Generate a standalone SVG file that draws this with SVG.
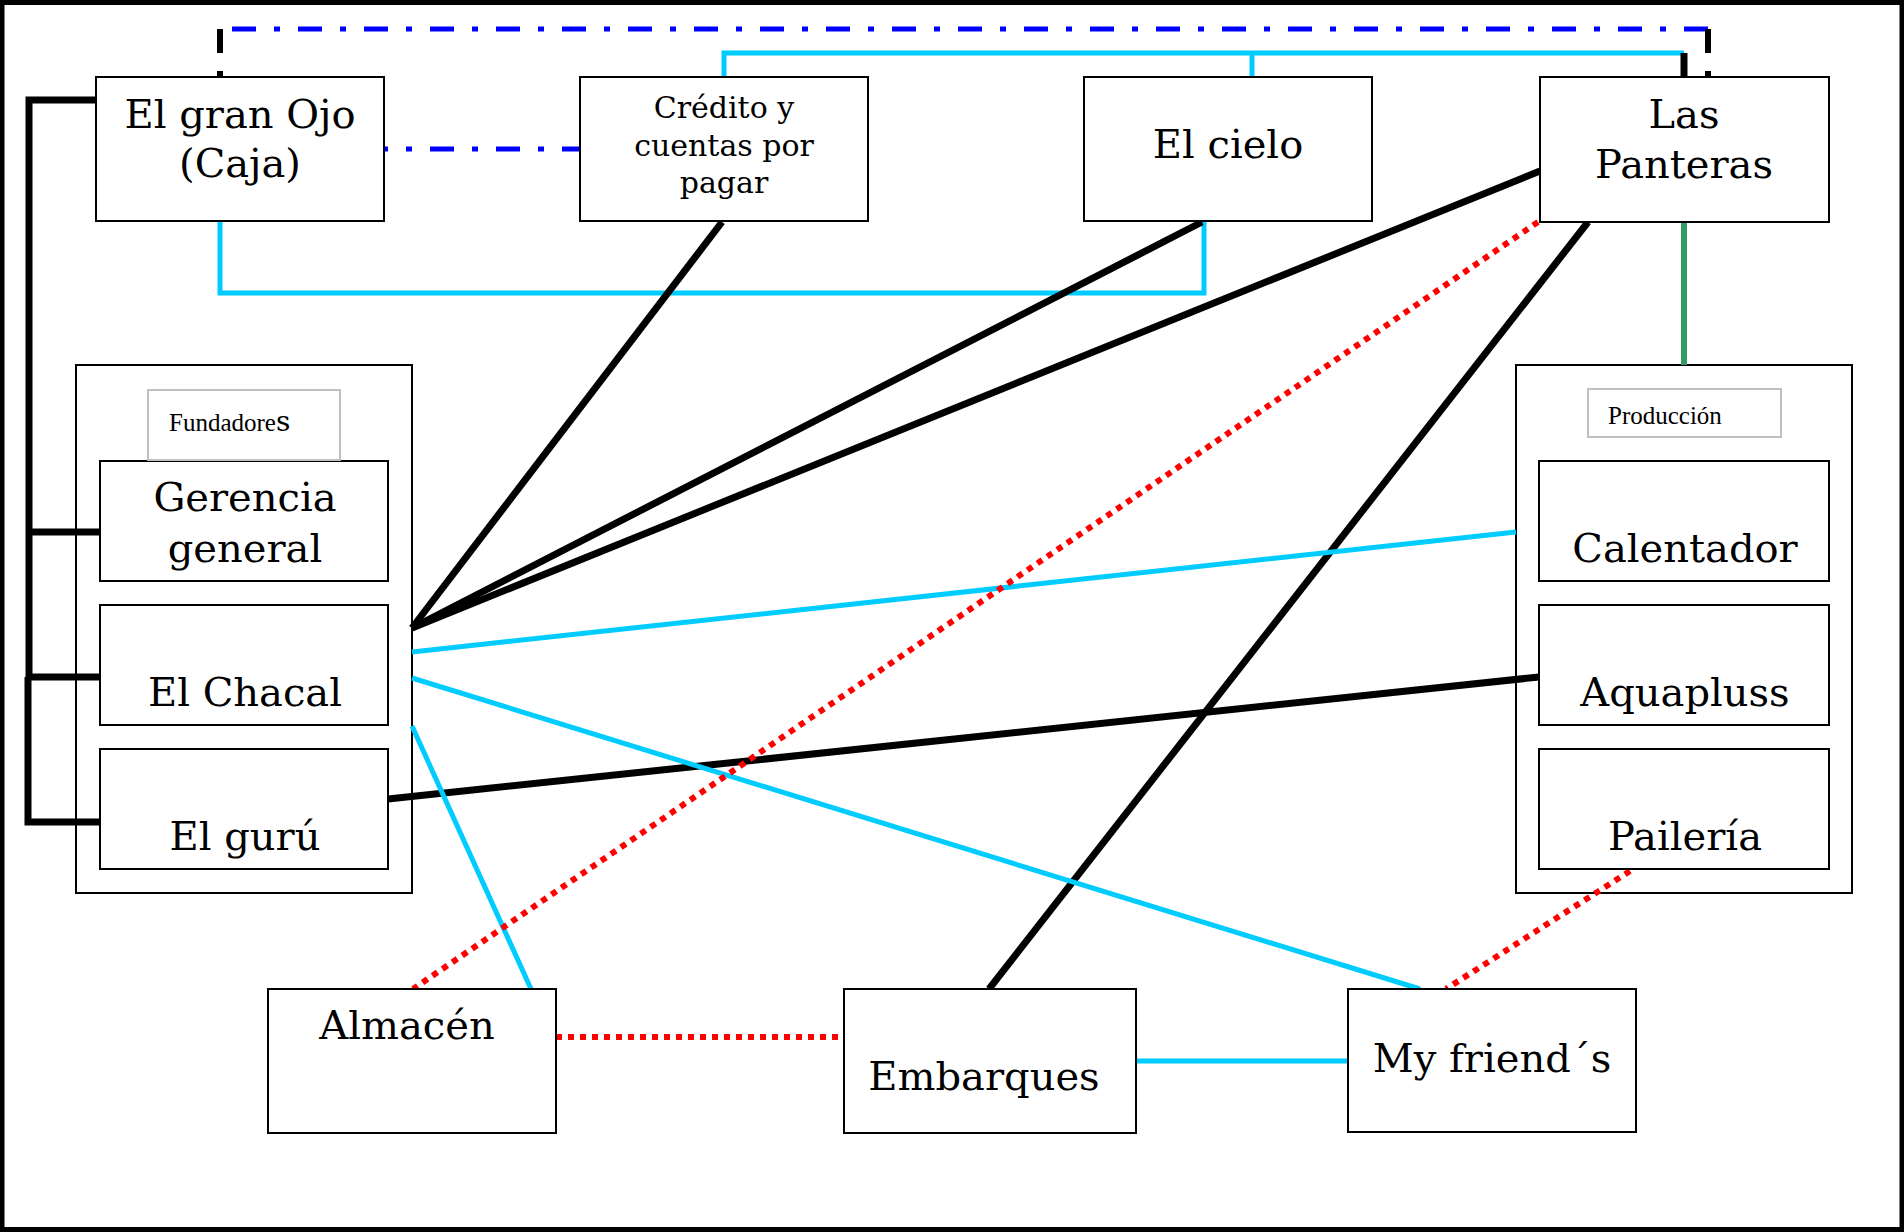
<svg xmlns="http://www.w3.org/2000/svg" width="1904" height="1232" viewBox="0 0 1904 1232">
<style>
.box{fill:#fff;stroke:#000;stroke-width:2}
.cont{fill:#fff;stroke:#000;stroke-width:2}
.lab{fill:#fff;stroke:#c0c0c0;stroke-width:2}
.t{font-family:"DejaVu Serif","Liberation Serif",serif;font-size:40px;fill:#000;text-anchor:middle}
.tm{font-family:"DejaVu Serif","Liberation Serif",serif;font-size:30px;fill:#000;text-anchor:middle}
.ts{font-family:"Liberation Serif","Times New Roman",serif;font-size:25px;fill:#000}
.k{fill:none;stroke:#000;stroke-width:7}
.c{fill:none;stroke:#00ccff;stroke-width:5}
.r{fill:none;stroke:#ff0000;stroke-width:6;stroke-dasharray:6 6}
.dd{fill:none;stroke:#0000ff;stroke-width:5;stroke-dasharray:24 18 6 18}
.kd{fill:none;stroke:#000;stroke-width:6;stroke-dasharray:24 18 6 18}
.g{fill:none;stroke:#349a66;stroke-width:6}
</style>
<rect x="0" y="0" width="1904" height="1232" fill="#fff"/>
<rect x="2" y="2.5" width="1900" height="1227" fill="none" stroke="#000" stroke-width="5"/>

<g id="grupo-fundadores">
<rect class="cont" x="76" y="365" width="336" height="528"/>
</g>
<g id="grupo-produccion">
<rect class="cont" x="1516" y="365" width="336" height="528"/>
</g>

<g id="connectors">
<path class="dd" d="M232 29 H1708"/>
<path class="kd" d="M220 29 V77"/>
<path class="kd" d="M1708 29 V77"/>
<path class="dd" d="M586 149 H384"/>
<path class="c" stroke-width="6" d="M724 77 V53 H1684"/>
<path class="c" stroke-width="6" d="M1252 53 V77"/>
<path class="k" stroke-width="6" d="M1684 53 V77"/>
<path class="c" d="M220 221 V293 H1204 V222"/>
<path class="g" d="M1684 222 V365"/>
<path class="k" stroke-width="6" d="M96 100 H29 V677 H100"/>
<path class="k" stroke-width="6" d="M29 532 H100"/>
<path class="k" stroke-width="3" d="M28 677 V822 H100"/>
<path class="k" d="M722 222 L412 628"/>
<path class="k" d="M1202 222 L412 628"/>
<path class="k" stroke-width="8" d="M1540 171 L412 628"/>
<path class="k" d="M1588 222 L989 989"/>
<path class="k" stroke-width="4.5" d="M388 799 L1539 677"/>
<path class="c" d="M412 652 L1516 532"/>
<path class="c" d="M412 678 L1420 989"/>
<path class="c" d="M412 726 L531 989"/>
<path class="c" stroke-width="6" d="M1136 1061 H1348"/>
<path class="r" d="M1538 222 L413 989"/>
<path class="r" d="M556 1037 H844"/>
<path class="r" d="M1630 871 L1446 989"/>
</g>

<g id="el-gran-ojo">
<rect class="box" x="96" y="77" width="288" height="144"/>
<text class="t" x="240" y="128">El gran Ojo</text>
<text class="t" x="240" y="177">(Caja)</text>
</g>
<g id="credito">
<rect class="box" x="580" y="77" width="288" height="144"/>
<text class="tm" x="724" y="118">Crédito y</text>
<text class="tm" x="724" y="156">cuentas por</text>
<text class="tm" x="724" y="193">pagar</text>
</g>
<g id="el-cielo">
<rect class="box" x="1084" y="77" width="288" height="144"/>
<text class="t" x="1228" y="158">El cielo</text>
</g>
<g id="las-panteras">
<rect class="box" x="1540" y="77" width="289" height="145"/>
<text class="t" x="1684" y="128">Las</text>
<text class="t" x="1684" y="178">Panteras</text>
</g>

<g id="gerencia-general">
<rect class="box" x="100" y="461" width="288" height="120"/>
<text class="t" x="245" y="511">Gerencia</text>
<text class="t" x="245" y="562">general</text>
</g>
<g id="fundadores-label">
<rect class="lab" x="148" y="390" width="192" height="70"/>
<text class="ts" x="169" y="431">Fundadore<tspan font-family="DejaVu Serif, serif" font-size="28">s</tspan></text>
</g>
<g id="el-chacal">
<rect class="box" x="100" y="605" width="288" height="120"/>
<text class="t" x="245" y="706">El Chacal</text>
</g>
<g id="el-guru">
<rect class="box" x="100" y="749" width="288" height="120"/>
<text class="t" x="245" y="850">El gurú</text>
</g>

<g id="produccion-label">
<rect class="lab" x="1588" y="389" width="193" height="48"/>
<text class="ts" x="1608" y="424">Producción</text>
</g>
<g id="calentador">
<rect class="box" stroke-width="3" x="1539" y="461" width="290" height="120"/>
<text class="t" x="1685" y="562">Calentador</text>
</g>
<g id="aquapluss">
<rect class="box" x="1539" y="605" width="290" height="120"/>
<text class="t" x="1685" y="706">Aquapluss</text>
</g>
<g id="paileria">
<rect class="box" x="1539" y="749" width="290" height="120"/>
<text class="t" x="1685" y="850">Pailería</text>
</g>

<g id="almacen">
<rect class="box" x="268" y="989" width="288" height="144"/>
<text class="t" x="407" y="1039">Almacén</text>
</g>
<g id="embarques">
<rect class="box" x="844" y="989" width="292" height="144"/>
<text class="t" x="984" y="1090">Embarques</text>
</g>
<g id="my-friends">
<rect class="box" x="1348" y="989" width="288" height="143"/>
<text class="t" x="1492" y="1072">My friend´s</text>
</g>
</svg>
